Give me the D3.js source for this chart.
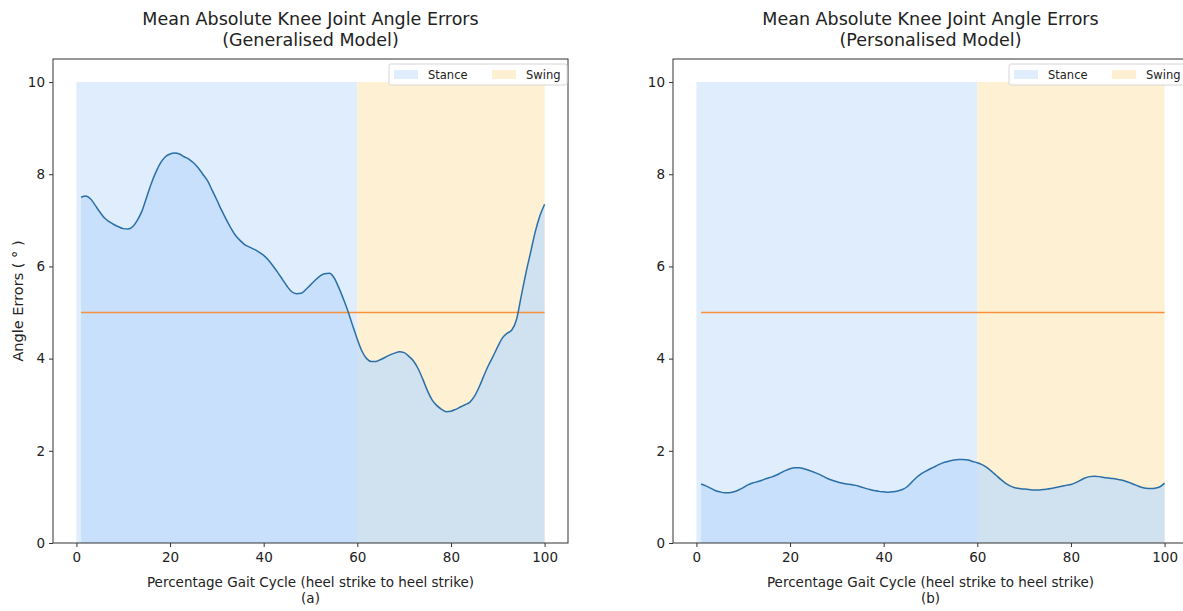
<!DOCTYPE html>
<html>
<head>
<meta charset="utf-8">
<script src="https://cdn.jsdelivr.net/npm/d3@7/dist/d3.min.js"></script>
<style>
  html, body { margin: 0; padding: 0; background: #ffffff; }
  svg { display: block; font-family: "DejaVu Sans", sans-serif; }
</style>
</head>
<body>
<svg id="chart" width="1183" height="611"></svg>
<script>
// Gait cycle percentage (1..100) for each sample
const gaitPct = d3.range(1, 101);

// Mean absolute knee angle error, generalised model (degrees)
const generalisedErr = [
  7.50, 7.53, 7.47, 7.33, 7.18, 7.05, 6.97, 6.91, 6.86, 6.82,
  6.81, 6.86, 7.00, 7.20, 7.50, 7.80, 8.05, 8.25, 8.38, 8.44,
  8.46, 8.44, 8.38, 8.33, 8.25, 8.14, 8.00, 7.86, 7.65, 7.44,
  7.22, 7.02, 6.83, 6.67, 6.56, 6.47, 6.42, 6.37, 6.31, 6.24,
  6.14, 6.01, 5.87, 5.72, 5.57, 5.45, 5.41, 5.42, 5.50, 5.60,
  5.70, 5.79, 5.84, 5.85, 5.76, 5.55, 5.30, 5.03, 4.72, 4.42,
  4.16, 4.00, 3.94, 3.94, 3.98, 4.03, 4.08, 4.12, 4.15, 4.13,
  4.05, 3.95, 3.78, 3.55, 3.30, 3.10, 2.98, 2.90, 2.85, 2.86,
  2.90, 2.95, 3.00, 3.05, 3.18, 3.38, 3.62, 3.85, 4.05, 4.26,
  4.45, 4.55, 4.62, 4.85, 5.35, 5.85, 6.30, 6.75, 7.10, 7.35
];

// Mean absolute knee angle error, personalised model (degrees)
const personalisedErr = [
  1.28, 1.24, 1.19, 1.14, 1.11, 1.09, 1.09, 1.11, 1.15, 1.20,
  1.26, 1.30, 1.33, 1.36, 1.40, 1.43, 1.47, 1.52, 1.57, 1.61,
  1.63, 1.63, 1.61, 1.58, 1.54, 1.50, 1.45, 1.40, 1.36, 1.33,
  1.30, 1.28, 1.27, 1.25, 1.22, 1.19, 1.16, 1.14, 1.12, 1.11,
  1.10, 1.11, 1.13, 1.16, 1.22, 1.32, 1.42, 1.50, 1.56, 1.61,
  1.66, 1.71, 1.75, 1.78, 1.80, 1.81, 1.81, 1.80, 1.77, 1.74,
  1.70, 1.64, 1.56, 1.47, 1.38, 1.30, 1.24, 1.20, 1.18, 1.17,
  1.16, 1.15, 1.15, 1.16, 1.17, 1.19, 1.21, 1.23, 1.25, 1.27,
  1.31, 1.36, 1.41, 1.44, 1.45, 1.44, 1.42, 1.41, 1.40, 1.38,
  1.36, 1.33, 1.29, 1.25, 1.21, 1.19, 1.18, 1.19, 1.22, 1.30
];

// Error threshold line (degrees)
const threshold = 5;

// Gait phases
const phaseNames = ["Stance", "Swing"];
const phaseStart = [0, 60];
const phaseEnd = [60, 100];
const phaseTop = 10;

const xTicks = [0, 20, 40, 60, 80, 100];
const yTicks = [0, 2, 4, 6, 8, 10];

const titleLine1 = "Mean Absolute Knee Joint Angle Errors";
const subtitles = ["(Generalised Model)", "(Personalised Model)"];
const panelTags = ["(a)", "(b)"];
const xLabel = "Percentage Gait Cycle (heel strike to heel strike)";
const yLabel = "Angle Errors ( \u00B0 )";

const phaseColors = ["#e0edfd", "#fdf0d3"];
const areaColor = "rgba(190,219,250,0.72)";
const lineColor = "#2a6fa8";
const thresholdColor = "#f7913d";
const axisColor = "#333333";

const svg = d3.select("#chart");

function drawPanel(left, series, idx) {
  const width = 515, top = 59, bottom = 543;
  const x = d3.scaleLinear().domain([-5, 105]).range([left, left + width]);
  const y = d3.scaleLinear().domain([0, 10.5]).range([bottom, top]);
  const g = svg.append("g");

  // phase shading
  g.selectAll("rect.phase")
    .data(phaseNames)
    .join("rect")
    .attr("class", "phase")
    .attr("x", (d, i) => x(phaseStart[i]))
    .attr("width", (d, i) => x(phaseEnd[i]) - x(phaseStart[i]))
    .attr("y", y(phaseTop))
    .attr("height", y(0) - y(phaseTop))
    .attr("fill", (d, i) => phaseColors[i]);

  const pts = gaitPct.map((p, i) => [p, series[i]]);

  // filled region under the error curve
  g.append("path")
    .datum(pts)
    .attr("fill", areaColor)
    .attr("d", d3.area()
      .x(d => x(d[0]))
      .y0(y(0))
      .y1(d => y(d[1]))
      .curve(d3.curveMonotoneX));

  // threshold line
  g.append("line")
    .attr("x1", x(gaitPct[0]))
    .attr("x2", x(gaitPct[gaitPct.length - 1]))
    .attr("y1", y(threshold))
    .attr("y2", y(threshold))
    .attr("stroke", thresholdColor)
    .attr("stroke-width", 1.6);

  // error curve
  g.append("path")
    .datum(pts)
    .attr("fill", "none")
    .attr("stroke", lineColor)
    .attr("stroke-width", 1.5)
    .attr("d", d3.line()
      .x(d => x(d[0]))
      .y(d => y(d[1]))
      .curve(d3.curveMonotoneX));

  // axes
  const xAxis = g.append("g")
    .attr("transform", `translate(0,${bottom})`)
    .call(d3.axisBottom(x).tickValues(xTicks).tickSize(4).tickPadding(5));
  const yAxis = g.append("g")
    .attr("transform", `translate(${left},0)`)
    .call(d3.axisLeft(y).tickValues(yTicks).tickSize(4).tickPadding(4));
  [xAxis, yAxis].forEach(a => {
    a.select(".domain").remove();
    a.selectAll("line").attr("stroke", axisColor);
    a.selectAll("text").attr("fill", "#222").style("font-size", "13.5px")
      .style("font-family", "'DejaVu Sans', sans-serif");
  });

  // frame
  g.append("rect")
    .attr("x", left).attr("y", top)
    .attr("width", width).attr("height", bottom - top)
    .attr("fill", "none")
    .attr("stroke", axisColor)
    .attr("stroke-width", 1);

  // title
  const cx = left + width / 2;
  g.append("text").attr("x", cx).attr("y", 25).attr("text-anchor", "middle")
    .style("font-size", "17.5px").attr("fill", "#222").text(titleLine1);
  g.append("text").attr("x", cx).attr("y", 46).attr("text-anchor", "middle")
    .style("font-size", "17.5px").attr("fill", "#222").text(subtitles[idx]);

  // x label
  g.append("text").attr("x", cx).attr("y", 587).attr("text-anchor", "middle")
    .style("font-size", "13.5px").attr("fill", "#222").text(xLabel);
  g.append("text").attr("x", cx).attr("y", 603).attr("text-anchor", "middle")
    .style("font-size", "13.5px").attr("fill", "#222").text(panelTags[idx]);

  // legend
  const lg = g.append("g").attr("transform", `translate(${left + 336},64)`);
  lg.append("rect").attr("width", 178).attr("height", 21).attr("rx", 2)
    .attr("fill", "rgba(255,255,255,0.85)").attr("stroke", "#d6d6d6");
  const entryX = [5, 103];
  phaseNames.forEach((name, i) => {
    lg.append("rect").attr("x", entryX[i]).attr("y", 6)
      .attr("width", 24).attr("height", 9).attr("fill", phaseColors[i]);
    lg.append("text").attr("x", entryX[i] + 34).attr("y", 15)
      .style("font-size", "11.5px").attr("fill", "#222").text(name);
  });
}

drawPanel(53, generalisedErr, 0);
drawPanel(673, personalisedErr, 1);

// y label on the first panel
svg.append("text")
  .attr("transform", "translate(23,301) rotate(-90)")
  .attr("text-anchor", "middle")
  .style("font-size", "14.5px")
  .attr("fill", "#222")
  .text(yLabel);
</script>
</body>
</html>
